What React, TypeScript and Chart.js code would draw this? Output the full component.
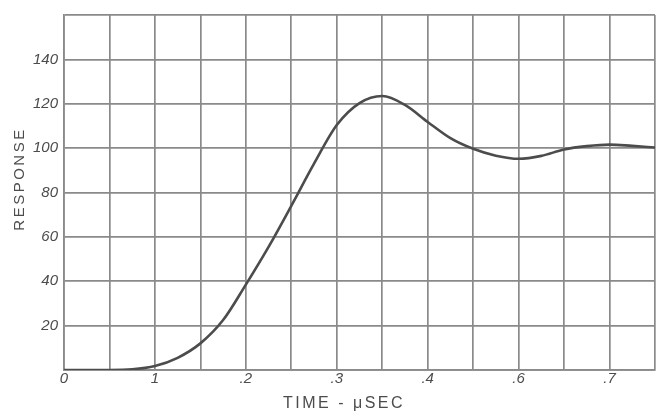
import { useEffect, useRef } from "react";
import { Chart, registerables } from "chart.js";

Chart.register(...registerables);

// time in microseconds (x) and response (y)
const timeValues = [
  0, 0.025, 0.05, 0.075, 0.1, 0.125, 0.15, 0.175, 0.2, 0.225, 0.25, 0.275, 0.3,
  0.325, 0.35, 0.375, 0.4, 0.425, 0.45, 0.475, 0.5, 0.525, 0.55, 0.575, 0.6,
  0.625, 0.65,
];
const responseValues = [
  0, 0, 0, 0.3, 1.8, 5.5, 12, 22.5, 38.5, 55.5, 74, 93, 110.4,
  120.3, 123.5, 119.5, 111.8, 104.5, 99.7, 96.6, 95.2, 96.5, 99.4, 100.9, 101.6,
  101, 100.3,
];

// tick labels exactly as hand-lettered on the original
const xTickValues = [0, 5, 10, 15, 20, 25, 30, 35, 40, 45, 50, 55, 60, 65]; // hundredths
const xTickText: Record<number, string> = {
  0: "0",
  10: "1",
  20: ".2",
  30: ".3",
  40: ".4",
  50: ".6",
  60: ".7",
};
const yTickValues = [20, 40, 60, 80, 100, 120, 140];

const xTitle = "TIME - μSEC";
const yTitle = "RESPONSE";

const GRID = "#8a8a8a";
const INK = "#4c4c4c";

export default function App() {
  const ref = useRef<HTMLCanvasElement>(null);

  useEffect(() => {
    document.body.style.margin = "0";
    const titlePlugin = {
      id: "handTitles",
      afterDraw(chart: any) {
        const ctx = chart.ctx as CanvasRenderingContext2D;
        ctx.save();
        ctx.fillStyle = INK;
        ctx.textAlign = "center";
        ctx.textBaseline = "middle";
        (ctx as any).letterSpacing = "2.5px";
        ctx.font = "16px 'Liberation Sans', sans-serif";
        ctx.fillText(xTitle, 344, 404);
        ctx.translate(20, 179);
        ctx.rotate(-Math.PI / 2);
        ctx.font = "15px 'Liberation Sans', sans-serif";
        ctx.fillText(yTitle, 0, 0);
        ctx.restore();
      },
    };

    const chart = new Chart(ref.current!, {
      type: "line",
      data: {
        datasets: [
          {
            data: timeValues.map((t, i) => ({ x: t, y: responseValues[i] })),
            borderColor: INK,
            borderWidth: 2.6,
            pointRadius: 0,
            cubicInterpolationMode: "monotone",
            fill: false,
          },
        ],
      },
      options: {
        animation: false,
        responsive: false,
        maintainAspectRatio: false,
        layout: { padding: { top: 11, right: 15, left: 0, bottom: 0 } },
        plugins: { legend: { display: false }, tooltip: { enabled: false } },
        scales: {
          x: {
            type: "linear",
            min: 0,
            max: 0.65,
            afterFit: (s: any) => {
              s.height = 48;
            },
            afterBuildTicks: (s: any) => {
              s.ticks = xTickValues.map((v) => ({ value: v / 100 }));
            },
            ticks: {
              autoSkip: false,
              maxRotation: 0,
              padding: 0,
              color: INK,
              font: { family: "'Liberation Sans', sans-serif", size: 15, style: "italic" },
              callback: (v: any) => xTickText[Math.round(Number(v) * 100)] ?? "",
            },
            grid: { color: GRID, lineWidth: 1.7, drawTicks: false },
            border: { color: GRID, width: 1.7 },
          },
          y: {
            type: "linear",
            min: 0,
            max: 160,
            afterFit: (s: any) => {
              s.width = 64;
            },
            afterBuildTicks: (s: any) => {
              s.ticks = [0, ...yTickValues, 160].map((v) => ({ value: v }));
            },
            ticks: {
              padding: 6,
              color: INK,
              font: { family: "'Liberation Sans', sans-serif", size: 15, style: "italic" },
              callback: (v: any) => (yTickValues.includes(Number(v)) ? String(v) : ""),
            },
            grid: { color: GRID, lineWidth: 1.7, drawTicks: false },
            border: { color: GRID, width: 1.7 },
          },
        },
      },
      plugins: [titlePlugin],
    } as any);
    return () => chart.destroy();
  }, []);

  return (
    <div style={{ width: 670, height: 418, background: "#fff" }}>
      <canvas ref={ref} width={670} height={418} />
    </div>
  );
}
